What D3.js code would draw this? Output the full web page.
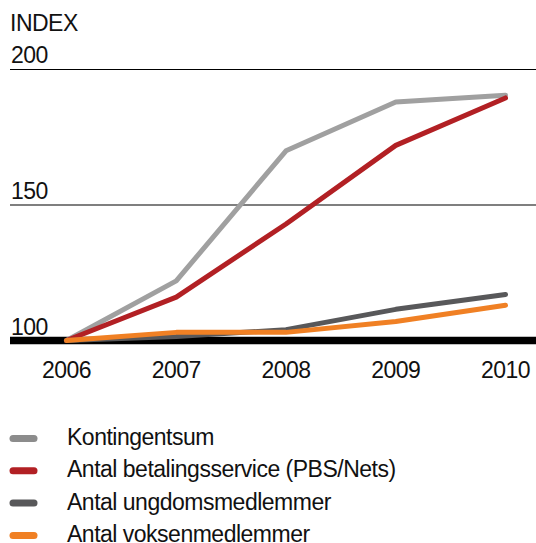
<!DOCTYPE html>
<html>
<head>
<meta charset="utf-8">
<script src="https://cdn.jsdelivr.net/npm/d3@7"></script>
<style>
  body { margin: 0; background: #fff; }
  svg { display: block; font-family: "Liberation Sans Narrow", "Arial Narrow", sans-serif; letter-spacing: -0.5px; }
</style>
</head>
<body>
<div id="chart"></div>
<script>
const years = [2006, 2007, 2008, 2009, 2010];
const yTicks = [100, 150, 200];
const seriesNames = ["Kontingentsum", "Antal betalingsservice (PBS/Nets)", "Antal ungdomsmedlemmer", "Antal voksenmedlemmer"];
const kontingentsum = [100, 122, 170, 188, 190.5];
const betalingsservice = [100, 116, 143, 172, 189.5];
const ungdom = [100, 101.5, 104, 111.5, 117];
const voksen = [100, 103, 103, 107, 113];
const colors = ["#a0a0a0", "#b22024", "#58585a", "#f08024"];
const legendColors = ["#8c8c8c", "#b22024", "#58585a", "#f08024"];

const width = 536, height = 543;

(() => {
    const svg = d3.select("#chart").append("svg")
        .attr("width", width)
        .attr("height", height)
        .attr("viewBox", [0, 0, width, height]);

    const x = d3.scalePoint(years, [66.5, 505.5]);
    const y = d3.scaleLinear([100, 200], [340.5, 69.5]);

    svg.append("text")
        .attr("x", 10).attr("y", 30.5)
        .attr("font-size", 23)
        .attr("fill", "#111")
        .text("INDEX");

    // gridlines with labels sitting on top
    const grid = svg.append("g").selectAll("g")
        .data(yTicks)
        .join("g");

    grid.append("line")
        .attr("x1", 10).attr("x2", width)
        .attr("y1", d => y(d)).attr("y2", d => y(d))
        .attr("stroke", "#000")
        .attr("stroke-width", d => d === 100 ? 7.5 : 1.2);

    grid.append("text")
        .attr("x", 11)
        .attr("y", d => d === 100 ? y(d) - 6 : y(d) - 6.5)
        .attr("font-size", 23)
        .attr("fill", "#111")
        .text(d => d);

    svg.append("g").selectAll("text")
        .data(years)
        .join("text")
            .attr("x", d => x(d))
            .attr("y", 378)
            .attr("text-anchor", "middle")
            .attr("font-size", 23)
            .attr("fill", "#111")
            .text(d => d);

    const series = [kontingentsum, betalingsservice, ungdom, voksen];
    const line = d3.line()
        .x((d, i) => x(years[i]))
        .y(d => y(d));

    svg.append("g")
        .attr("fill", "none")
        .attr("stroke-width", 5)
        .attr("stroke-linecap", "round")
        .attr("stroke-linejoin", "round")
        .selectAll("path")
        .data(series)
        .join("path")
            .attr("stroke", (d, i) => colors[i])
            .attr("d", line);

    // legend
    const legend = svg.append("g").selectAll("g")
        .data(seriesNames)
        .join("g")
            .attr("transform", (d, i) => `translate(0,${438.5 + i * 32.3})`);

    legend.append("line")
        .attr("x1", 13).attr("x2", 34)
        .attr("stroke", (d, i) => legendColors[i])
        .attr("stroke-width", 7)
        .attr("stroke-linecap", "round");

    legend.append("text")
        .attr("x", 67).attr("y", 6.5)
        .attr("font-size", 23)
        .attr("fill", "#111")
        .text(d => d);
})();
</script>
</body>
</html>
